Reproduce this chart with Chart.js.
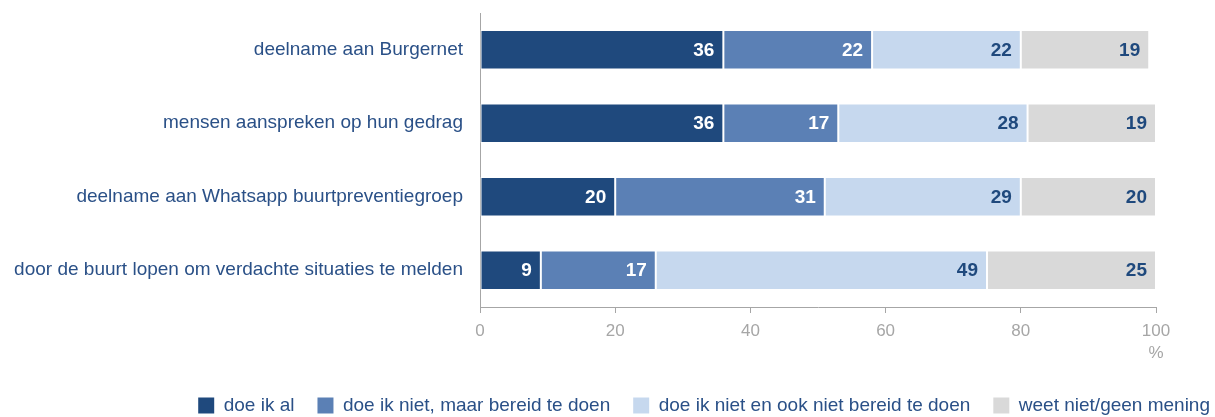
<!DOCTYPE html>
<html>
<head>
<meta charset="utf-8">
<script src="https://cdn.jsdelivr.net/npm/chart.js@4"></script>
<style>
  html, body { margin: 0; padding: 0; background: #fff; }
  #wrap { width: 1215px; height: 417px; }
</style>
</head>
<body>
<div id="wrap"><canvas id="chart"></canvas></div>
<script>
const categories = [
  "deelname aan Burgernet",
  "mensen aanspreken op hun gedrag",
  "deelname aan Whatsapp buurtpreventiegroep",
  "door de buurt lopen om verdachte situaties te melden",
];
const seriesNames = [
  "doe ik al",
  "doe ik niet, maar bereid te doen",
  "doe ik niet en ook niet bereid te doen",
  "weet niet/geen mening",
];
const doeIkAl = [36, 36, 20, 9];
const bereid = [22, 17, 31, 17];
const nietBereid = [22, 28, 29, 49];
const weetNiet = [19, 19, 20, 25];
const xTicks = [0, 20, 40, 60, 80, 100];

const fills = ["#1F497D", "#5B80B5", "#C6D8EE", "#D9D9D9"];
const labelColors = ["#ffffff", "#ffffff", "#1F497D", "#1F497D"];
const textColor = "#2A5087";
const axisGrey = "#A6A6A6";
const FONT = "'Liberation Sans', Arial, sans-serif";
const LEGEND_PAD = 23;

// value labels at the right end of each segment, plus the "%" unit
const segmentLabels = {
  id: "segmentLabels",
  afterDatasetsDraw(chart) {
    const ctx = chart.ctx;
    ctx.save();
    ctx.font = "bold 19px " + FONT;
    ctx.textAlign = "right";
    ctx.textBaseline = "middle";
    chart.data.datasets.forEach((ds, i) => {
      chart.getDatasetMeta(i).data.forEach((bar, j) => {
        ctx.fillStyle = labelColors[i];
        ctx.fillText(ds.data[j], bar.x - 9, bar.y + 1);
      });
    });
    const x = chart.scales.x;
    ctx.font = "17px " + FONT;
    ctx.textAlign = "center";
    ctx.fillStyle = axisGrey;
    ctx.fillText("%", x.getPixelForValue(100), x.top + 46);
    ctx.restore();
  },
};

// legend sits right-aligned near the canvas edge, a bit lower than default
const legendPlacement = {
  id: "legendPlacement",
  afterLayout(chart) {
    const lg = chart.legend;
    lg.right = chart.width - 5 + LEGEND_PAD;
    lg.top += 8;
    lg.bottom += 8;
  },
};

const series = [doeIkAl, bereid, nietBereid, weetNiet];

new Chart(document.getElementById("chart"), {
  type: "bar",
  data: {
    labels: categories,
    datasets: series.map((data, i) => ({
      label: seriesNames[i],
      data: data,
      backgroundColor: fills[i],
      borderColor: "#ffffff",
      borderWidth: 1,
      borderSkipped: false,
      categoryPercentage: 1,
      barPercentage: 0.54,
    })),
  },
  options: {
    indexAxis: "y",
    responsive: true,
    maintainAspectRatio: false,
    animation: false,
    layout: { padding: { top: 13, right: 59, left: 0, bottom: 0 } },
    scales: {
      x: {
        stacked: true,
        min: 0,
        max: 100,
        afterBuildTicks: (s) => { s.ticks = xTicks.map((v) => ({ value: v })); },
        afterFit: (s) => { s.height = 58; },
        border: { color: axisGrey, width: 1 },
        grid: { drawOnChartArea: false, drawTicks: true, tickLength: 6, color: axisGrey },
        ticks: {
          color: axisGrey,
          padding: 8,
          font: { family: FONT, size: 17 },
        },
      },
      y: {
        stacked: true,
        afterFit: (s) => { s.width = 480; s.paddingTop = 0; s.paddingBottom = 0; },
        border: { color: axisGrey, width: 1 },
        grid: { display: false, drawTicks: false },
        ticks: {
          color: textColor,
          padding: 17,
          font: { family: FONT, size: 19 },
        },
      },
    },
    plugins: {
      legend: {
        position: "bottom",
        align: "end",
        labels: {
          boxWidth: 16,
          boxHeight: 16,
          padding: LEGEND_PAD,
          color: textColor,
          font: { family: FONT, size: 19 },
          generateLabels: (chart) =>
            chart.data.datasets.map((ds, i) => ({
              text: ds.label,
              fillStyle: fills[i],
              strokeStyle: fills[i],
              lineWidth: 0,
              fontColor: textColor,
              datasetIndex: i,
            })),
        },
      },
      tooltip: { enabled: false },
    },
  },
  plugins: [segmentLabels, legendPlacement],
});
</script>
</body>
</html>
